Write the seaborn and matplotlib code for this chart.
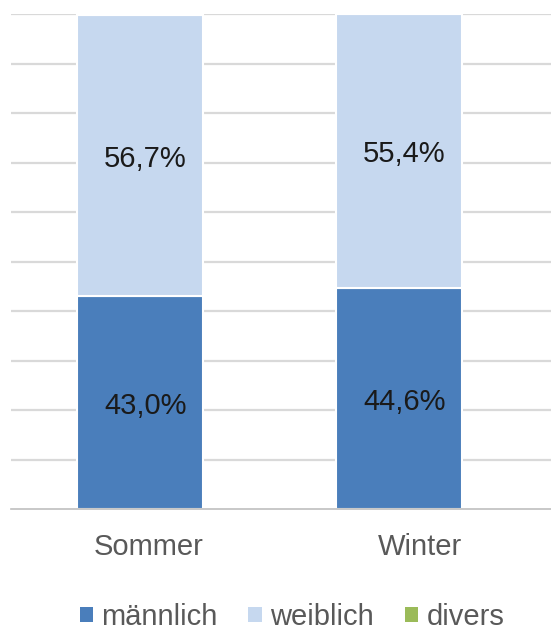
import numpy as np
import pandas as pd
import matplotlib
matplotlib.use("Agg")
import matplotlib.pyplot as plt
import matplotlib.transforms as mtransforms
import seaborn as sns
from matplotlib.patches import Patch

seasons = ["Sommer", "Winter"]
maennlich = [43.0, 44.6]
weiblich = [56.7, 55.4]
divers = [0.3, 0.0]

series = ["männlich", "weiblich", "divers"]
colors = ["#4a7ebb", "#c6d8ef", "#9bbb59"]

sns.set_style("white")
plt.rcParams["font.family"] = ["Liberation Sans", "DejaVu Sans"]

fig = plt.figure(figsize=(5.51, 6.32), dpi=100)
ax = fig.add_axes([10.5 / 551, 1 - 509 / 632, 540.5 / 551, 495 / 632])

# horizontal gridlines behind the bars
for v in range(10, 101, 10):
    ax.axhline(v, color="#d9d9d9", lw=1.6, zorder=0)

bottom = np.zeros(len(seasons))
for name, vals, col in zip(series, [maennlich, weiblich, divers], colors):
    df = pd.DataFrame({"Saison": seasons, "Anteil": vals})
    sns.barplot(data=df, x="Saison", y="Anteil", color=col, width=0.49,
                bottom=bottom, edgecolor="white", linewidth=1.5,
                saturation=1, errorbar=None, ax=ax, zorder=2)
    if name != "divers":
        for i, v in enumerate(vals):
            ax.text(i + 0.02, bottom[i] + v / 2 - 0.6, f"{v:.1f}%".replace(".", ","),
                    ha="center", va="center", fontsize=21, color="#1a1a1a", zorder=3)
    bottom = bottom + np.array(vals)

ax.set_xlim(-0.5, 1.587)
ax.set_ylim(0, 100)
ax.set_xlabel("")
ax.set_ylabel("")
ax.set_yticks([])
for s in ["left", "right", "top"]:
    ax.spines[s].set_visible(False)
ax.spines["bottom"].set_color("#bfbfbf")
ax.spines["bottom"].set_linewidth(1.2)
ax.set_xticks([0, 1])
ax.set_xticklabels(seasons, fontsize=21, color="#595959")
ax.tick_params(axis="x", which="major", length=0, pad=17)
# category labels sit a bit right of the bars in the original
for lab, dx in zip(ax.get_xticklabels(), [9, 21]):
    lab.set_transform(lab.get_transform() +
                      mtransforms.ScaledTranslation(dx / 100, 0, fig.dpi_scale_trans))
ax.set_xticks([-0.5, 0.5], minor=True)
ax.tick_params(axis="x", which="minor", length=6, color="#bfbfbf", width=1.2)

handles = [Patch(facecolor=c, edgecolor="none") for c in colors]
fig.legend(handles, series, loc="center", bbox_to_anchor=(0.53, 1 - 617 / 632),
           ncol=3, frameon=False, fontsize=21, labelcolor="#595959",
           handlelength=0.45, handleheight=0.45, handletextpad=0.3,
           columnspacing=1.05)

fig.savefig("out.png", dpi=100)
